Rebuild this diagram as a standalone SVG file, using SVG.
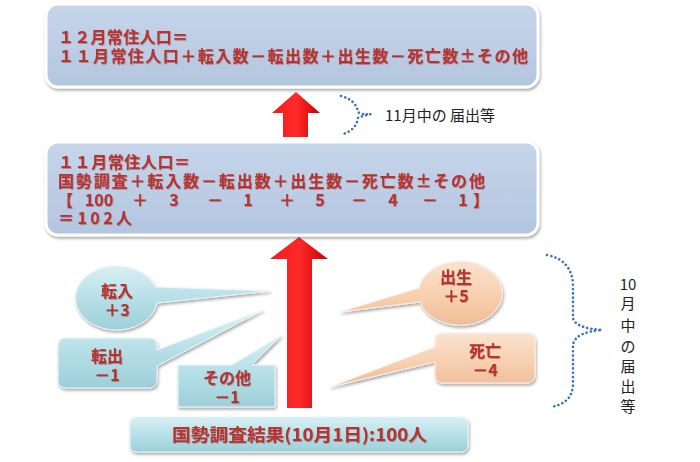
<svg xmlns="http://www.w3.org/2000/svg" width="700" height="462" viewBox="0 0 700 462">
<defs>
<style>
.rt{font-family:"Noto Sans CJK JP","Noto Sans",sans-serif;font-weight:bold;fill:#b8312f;}
.bt{font-family:"Noto Sans CJK JP","Noto Sans",sans-serif;fill:#222;}
.dot{fill:none;stroke:#3b73c0;stroke-width:2.6;stroke-dasharray:0.1 4.2;stroke-linecap:round;}
.c{text-anchor:middle;}
</style>
<linearGradient id="gBox" x1="0" y1="0" x2="0" y2="1">
<stop offset="0" stop-color="#c6d5ea"/><stop offset="1" stop-color="#b3c6df"/>
</linearGradient>
<linearGradient id="gCyan" x1="0" y1="0" x2="0" y2="1">
<stop offset="0" stop-color="#d8f0f4"/><stop offset="0.5" stop-color="#b7e0e8"/><stop offset="1" stop-color="#9dcfd9"/>
</linearGradient>
<linearGradient id="gPeach" x1="0" y1="0" x2="0" y2="1">
<stop offset="0" stop-color="#fbe3d0"/><stop offset="0.5" stop-color="#f8d1b2"/><stop offset="1" stop-color="#efbd98"/>
</linearGradient>
<linearGradient id="gRed" x1="0" y1="0" x2="1" y2="0">
<stop offset="0" stop-color="#f21a1a"/><stop offset="0.5" stop-color="#ff2a2a"/><stop offset="1" stop-color="#c80000"/>
</linearGradient>
<filter id="sh" x="-10%" y="-10%" width="120%" height="130%">
<feDropShadow dx="1" dy="2" stdDeviation="1.6" flood-color="#000" flood-opacity="0.35"/>
</filter>
<filter id="tsh" x="-5%" y="-20%" width="110%" height="150%">
<feDropShadow dx="0.6" dy="0.8" stdDeviation="0.5" flood-color="#600" flood-opacity="0.4"/>
</filter>
</defs>
<rect width="700" height="462" fill="#fff"/>

<g id="connectors">
<polygon points="272,113 296,92 320,113 308,113 308,137 283,137 283,113" fill="url(#gRed)"/>
<polygon points="270,259 299,237 328,259 312,259 312,408 287,408 287,259" fill="url(#gRed)"/>
<path class="dot" d="M341,96 Q356,100 358,112 Q362,115 371,114 Q362,116 358,118 Q356,130 343,134"/>
<path class="dot" d="M547,255 Q572,260 573,285 L573,318 Q575,328 602,330 Q575,332 573,345 L573,385 Q572,404 550,407"/>
</g>

<g id="box12" filter="url(#sh)">
<rect x="46" y="4" width="492" height="83" rx="12" fill="url(#gBox)" stroke="#fff" stroke-width="3"/>
<g class="rt" font-size="16" filter="url(#tsh)">
<text x="58" y="43" textLength="130" lengthAdjust="spacing">１２月常住人口＝</text>
<text x="58" y="62" textLength="470" lengthAdjust="spacing">１１月常住人口＋転入数－転出数＋出生数－死亡数±その他</text>
</g>
</g>

<g id="label11">
<text class="bt" x="385" y="121" font-size="15">11月中の 届出等</text>
</g>

<g id="box11" filter="url(#sh)">
<rect x="46" y="142" width="492" height="93" rx="12" fill="url(#gBox)" stroke="#fff" stroke-width="3"/>
<g class="rt" font-size="16" filter="url(#tsh)">
<text x="58" y="168" textLength="132" lengthAdjust="spacing">１１月常住人口＝</text>
<text x="58" y="187" textLength="427" lengthAdjust="spacing">国勢調査＋転入数－転出数＋出生数－死亡数±その他</text>
<text class="c" x="65" y="206">【</text>
<text class="c" x="99" y="206">100</text>
<text class="c" x="140" y="206">＋</text>
<text class="c" x="174" y="206">3</text>
<text class="c" x="215" y="206">－</text>
<text class="c" x="248" y="206">1</text>
<text class="c" x="287" y="206">＋</text>
<text class="c" x="320" y="206">5</text>
<text class="c" x="359" y="206">－</text>
<text class="c" x="393" y="206">4</text>
<text class="c" x="430" y="206">－</text>
<text class="c" x="463" y="206">1</text>
<text class="c" x="481" y="206">】</text>
<text x="58" y="224" textLength="74" lengthAdjust="spacing">＝102人</text>
</g>
</g>

<g id="tennyu" filter="url(#sh)">
<path d="M155,287 L270,291 L157,303 A41,32 0 1 1 155,287 Z" fill="url(#gCyan)" stroke="#e8f6f8" stroke-width="1"/>
<g class="rt c" font-size="16" filter="url(#tsh)">
<text x="117" y="297">転入</text>
<text x="117" y="316">＋3</text>
</g>
</g>

<g id="tenshutsu" filter="url(#sh)">
<path d="M66,338 H149 Q157,338 157,346 V350 L263,310 L157,366 V380 Q157,388 149,388 H66 Q58,388 58,380 V346 Q58,338 66,338 Z" fill="url(#gCyan)" stroke="#e8f6f8" stroke-width="1"/>
<g class="rt c" font-size="16" filter="url(#tsh)">
<text x="107" y="362">転出</text>
<text x="107" y="381">－1</text>
</g>
</g>

<g id="sonota" filter="url(#sh)">
<path d="M178,365 H232 L282,335 L252,365 H275 V407 H178 Z" fill="url(#gCyan)" stroke="#e8f6f8" stroke-width="1"/>
<g class="rt c" font-size="16" filter="url(#tsh)">
<text x="227" y="384">その他</text>
<text x="227" y="403">－1</text>
</g>
</g>

<g id="shusshou" filter="url(#sh)">
<path d="M420,302 L340,312 L419,288 A42,32 0 1 1 420,302 Z" fill="url(#gPeach)" stroke="#fdf0e6" stroke-width="1"/>
<g class="rt c" font-size="16" filter="url(#tsh)">
<text x="456" y="283">出生</text>
<text x="456" y="302">＋5</text>
</g>
</g>

<g id="shibou" filter="url(#sh)">
<path d="M443,333 H527 Q535,333 535,341 V375 Q535,383 527,383 H443 Q435,383 435,375 V362 L330,387 L435,347 V341 Q435,333 443,333 Z" fill="url(#gPeach)" stroke="#fdf0e6" stroke-width="1"/>
<g class="rt c" font-size="16" filter="url(#tsh)">
<text x="485" y="357">死亡</text>
<text x="485" y="376">－4</text>
</g>
</g>

<g id="label10">
<g class="bt c" font-size="15">
<text x="628" y="290">10</text>
<text x="628" y="309">月</text>
<text x="628" y="331">中</text>
<text x="628" y="352">の</text>
<text x="628" y="372">届</text>
<text x="628" y="392">出</text>
<text x="628" y="412">等</text>
</g>
</g>

<g id="census" filter="url(#sh)">
<rect x="130" y="417" width="338" height="35" rx="6" fill="url(#gCyan)" stroke="#e8f6f8" stroke-width="1"/>
<text class="rt" x="172" y="441" font-size="17" textLength="255" lengthAdjust="spacingAndGlyphs" filter="url(#tsh)">国勢調査結果(10月1日):100人</text>
</g>
</svg>
